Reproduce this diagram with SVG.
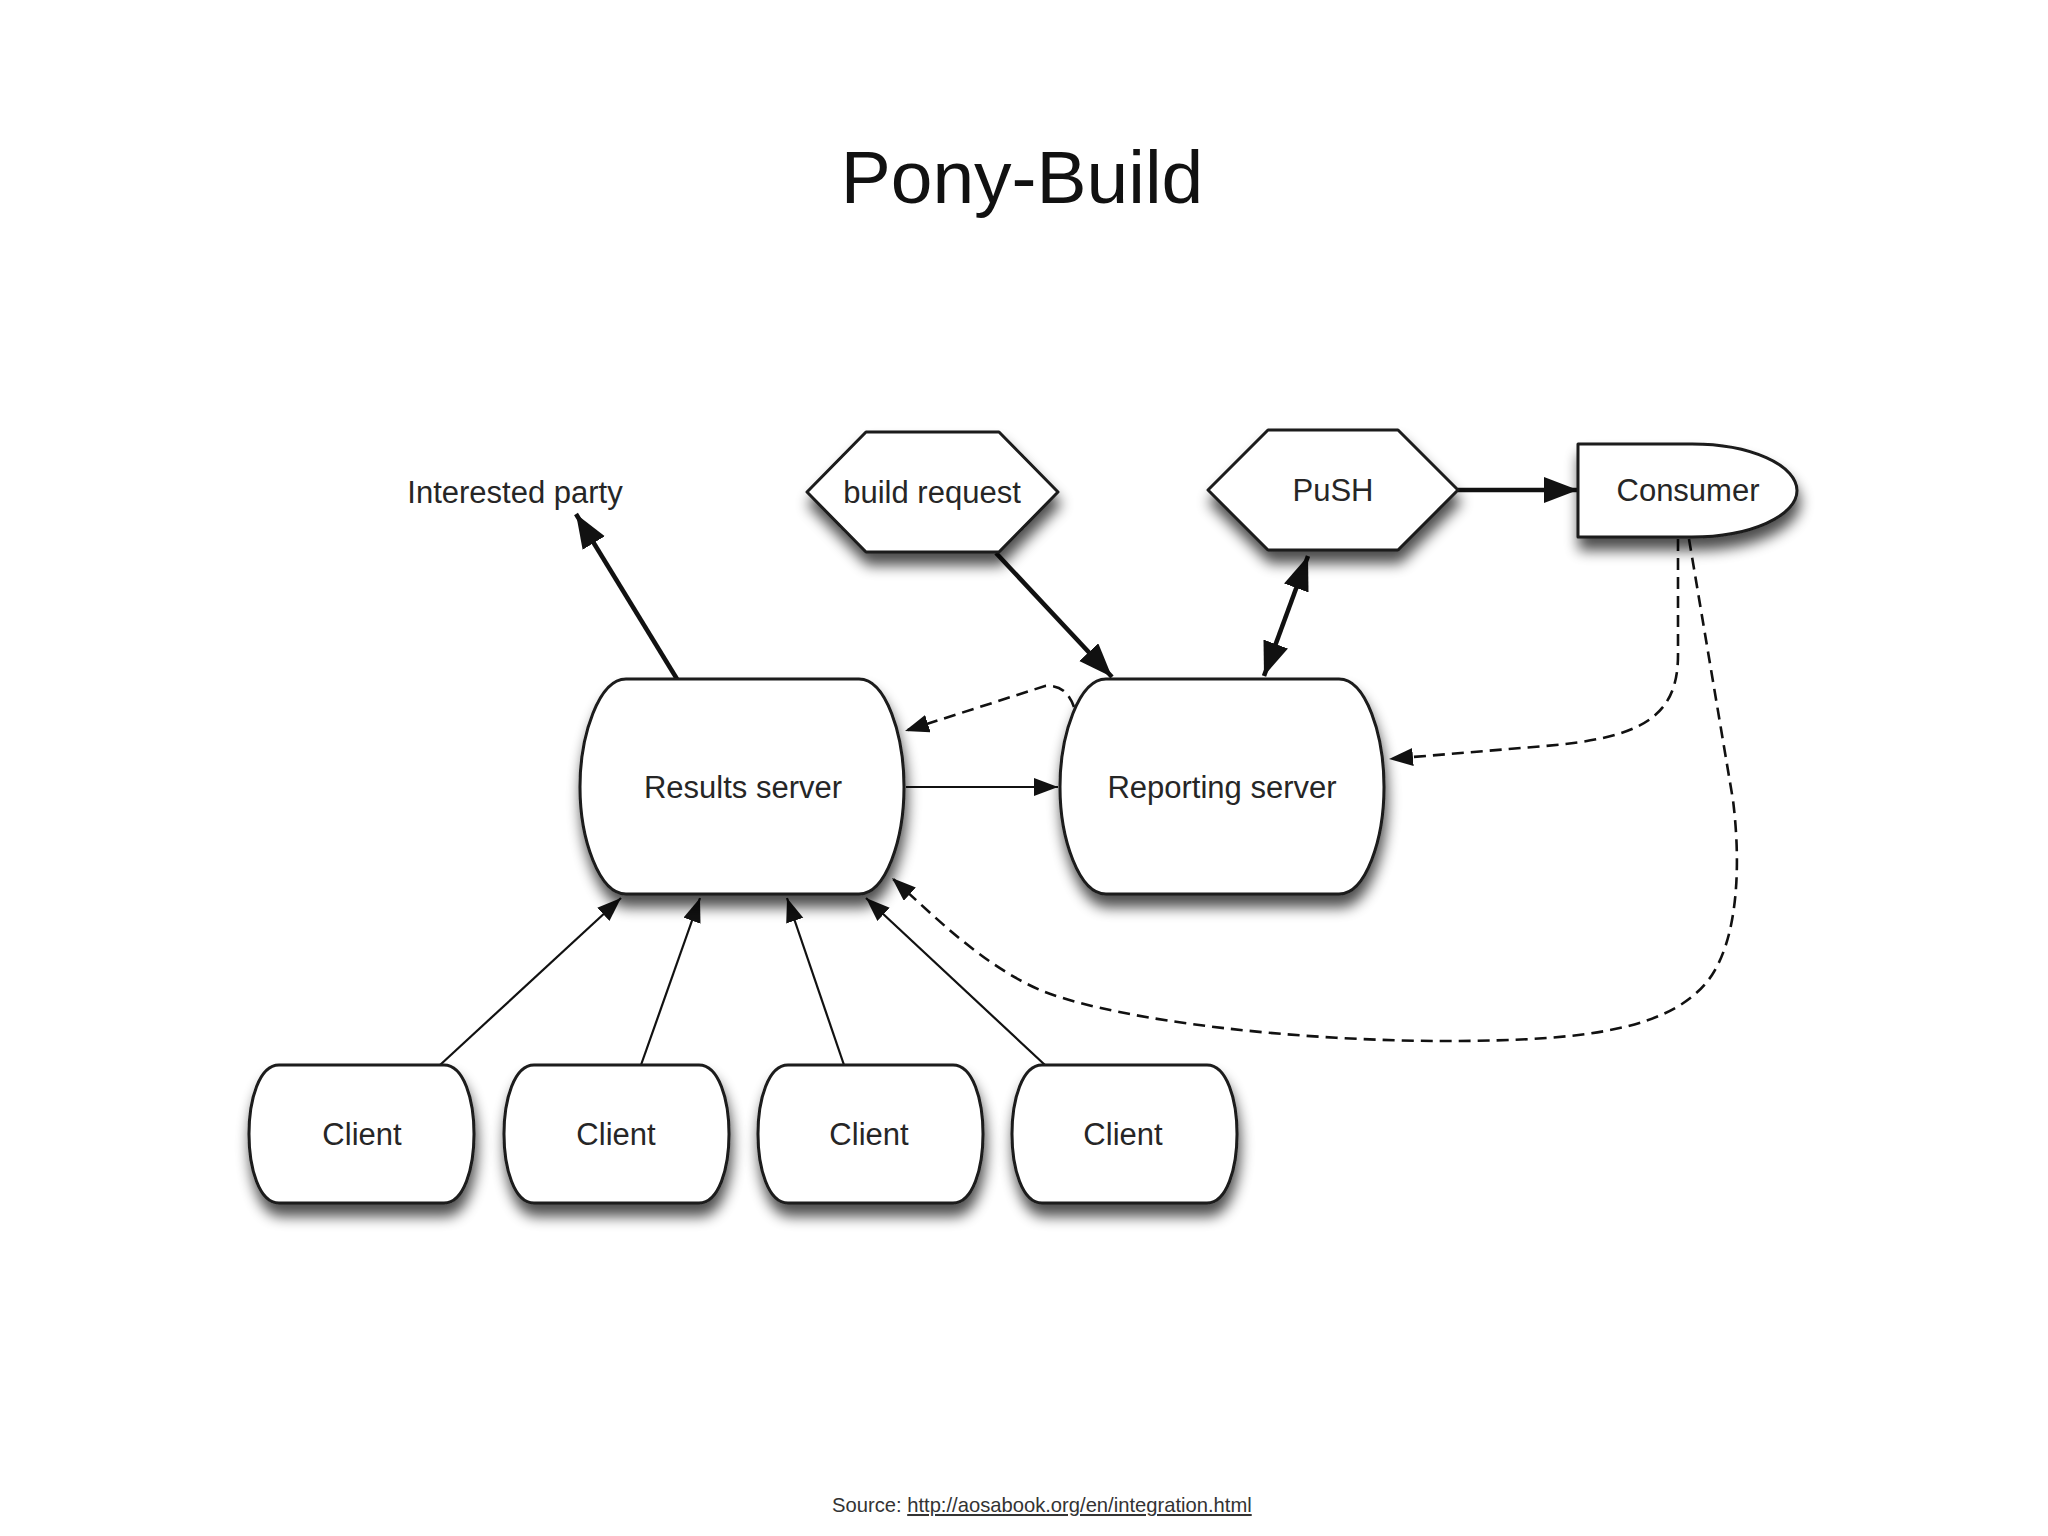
<svg xmlns="http://www.w3.org/2000/svg" width="2048" height="1536" viewBox="0 0 2048 1536">
<style>
  .node { fill: #ffffff; stroke: #1a1a1a; stroke-width: 3; stroke-linejoin: round; filter: url(#shadow); }
  .lbl { font-family: "Liberation Sans", Arial, sans-serif; font-size: 31px; fill: #262626; text-anchor: middle; }
  .thick { fill: none; stroke: #111; stroke-width: 4.5; }
  .thin { fill: none; stroke: #111; stroke-width: 2.2; }
  .dash { fill: none; stroke: #111; stroke-width: 2.6; stroke-dasharray: 12 7; }
</style>
<defs>
  <filter id="shadow" x="-20%" y="-20%" width="140%" height="160%">
    <feGaussianBlur in="SourceAlpha" stdDeviation="7"/>
    <feOffset dx="2" dy="12" result="b"/>
    <feComponentTransfer><feFuncA type="linear" slope="0.7"/></feComponentTransfer>
    <feMerge><feMergeNode/><feMergeNode in="SourceGraphic"/></feMerge>
  </filter>
  <marker id="ah-big" markerUnits="userSpaceOnUse" markerWidth="36" markerHeight="28" refX="34" refY="13" orient="auto-start-reverse">
    <path d="M0,0 L34,13 L0,26 z" fill="#111"/>
  </marker>
  <marker id="ah-small" markerUnits="userSpaceOnUse" markerWidth="26" markerHeight="20" refX="24" refY="9" orient="auto-start-reverse">
    <path d="M0,0 L24,9 L0,18 z" fill="#111"/>
  </marker>
</defs>
<rect width="2048" height="1536" fill="#ffffff"/>

<text x="1022" y="203" font-family="'Helvetica Neue', 'Liberation Sans', Arial, sans-serif" font-size="75" fill="#111" text-anchor="middle">Pony-Build</text>

<g id="connectors">
  <line class="thick" x1="677" y1="679" x2="576" y2="514" marker-end="url(#ah-big)"/>
  <line class="thick" x1="996" y1="553" x2="1112" y2="677" marker-end="url(#ah-big)"/>
  <line class="thick" x1="1264" y1="676" x2="1308" y2="556" marker-start="url(#ah-big)" marker-end="url(#ah-big)"/>
  <line class="thick" x1="1458" y1="490" x2="1578" y2="490" marker-end="url(#ah-big)"/>
  <line class="thin" x1="906" y1="787" x2="1058" y2="787" marker-end="url(#ah-small)"/>
  <line class="thin" x1="440" y1="1065" x2="621" y2="898" marker-end="url(#ah-small)"/>
  <line class="thin" x1="641" y1="1065" x2="700" y2="898" marker-end="url(#ah-small)"/>
  <line class="thin" x1="844" y1="1065" x2="787" y2="898" marker-end="url(#ah-small)"/>
  <line class="thin" x1="1045" y1="1065" x2="866" y2="898" marker-end="url(#ah-small)"/>
  <path class="dash" d="M1074,707 Q1066,684 1045,686 L905,731" marker-end="url(#ah-small)"/>
  <path class="dash" d="M1678,539 V655 C1678,718 1640,738 1545,746 L1389,759" marker-end="url(#ah-small)"/>
  <path class="dash" d="M1689,539 L1733,800 C1741,865 1738,935 1712,975 C1675,1030 1585,1041 1446,1041 C1300,1041 1125,1022 1045,992 C985,968 933,915 892,878" marker-end="url(#ah-small)"/>
</g>

<g id="interested-party">
  <text class="lbl" x="515" y="503" font-size="30">Interested party</text>
</g>

<g id="build-request">
  <polygon class="node" points="807,492 866,432 999,432 1058,492 999,552 866,552"/>
  <text class="lbl" x="932" y="503">build request</text>
</g>

<g id="push">
  <polygon class="node" points="1208,490 1268,430 1398,430 1458,490 1398,550 1268,550"/>
  <text class="lbl" x="1333" y="501">PuSH</text>
</g>

<g id="consumer">
  <path class="node" d="M1578,444 H1692 A105,46.5 0 0 1 1692,537 H1578 Z"/>
  <text class="lbl" x="1688" y="501">Consumer</text>
</g>

<g id="results-server">
  <path class="node" d="M626,679 H859 C886,679 904,735 904,787 C904,839 886,894 859,894 H626 C599,894 580,839 580,787 C580,735 599,679 626,679 Z"/>
  <text class="lbl" x="743" y="798">Results server</text>
</g>

<g id="reporting-server">
  <path class="node" d="M1106,679 H1339 C1366,679 1384,735 1384,787 C1384,839 1366,894 1339,894 H1106 C1079,894 1060,839 1060,787 C1060,735 1079,679 1106,679 Z"/>
  <text class="lbl" x="1222" y="798">Reporting server</text>
</g>

<g id="client-1">
  <path class="node" d="M279,1065 H444 C464,1065 474,1100 474,1134 C474,1168 464,1203 444,1203 H279 C259,1203 249,1168 249,1134 C249,1100 259,1065 279,1065 Z"/>
  <text class="lbl" x="362" y="1145">Client</text>
</g>
<g id="client-2">
  <path class="node" d="M534,1065 H699 C719,1065 729,1100 729,1134 C729,1168 719,1203 699,1203 H534 C514,1203 504,1168 504,1134 C504,1100 514,1065 534,1065 Z"/>
  <text class="lbl" x="616" y="1145">Client</text>
</g>
<g id="client-3">
  <path class="node" d="M788,1065 H953 C973,1065 983,1100 983,1134 C983,1168 973,1203 953,1203 H788 C768,1203 758,1168 758,1134 C758,1100 768,1065 788,1065 Z"/>
  <text class="lbl" x="869" y="1145">Client</text>
</g>
<g id="client-4">
  <path class="node" d="M1042,1065 H1207 C1227,1065 1237,1100 1237,1134 C1237,1168 1227,1203 1207,1203 H1042 C1022,1203 1012,1168 1012,1134 C1012,1100 1022,1065 1042,1065 Z"/>
  <text class="lbl" x="1123" y="1145">Client</text>
</g>

<text x="832" y="1512" font-family="'Helvetica Neue', 'Liberation Sans', Arial, sans-serif" font-size="20.2" fill="#333">Source: <tspan text-decoration="underline">http://aosabook.org/en/integration.html</tspan></text>
</svg>
